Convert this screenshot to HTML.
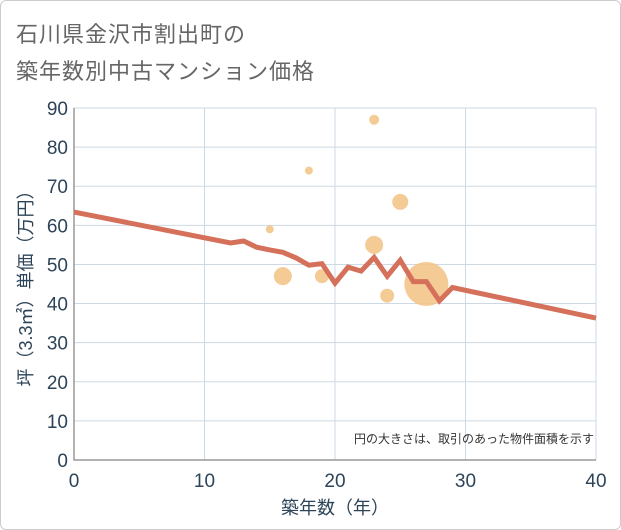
<!DOCTYPE html>
<html><head><meta charset="utf-8"><style>
body{margin:0;background:#fff;}
#wrap{position:relative;width:619px;height:528px;border:1px solid #ccc;border-radius:6px;overflow:hidden;background:#fff;font-family:"Liberation Sans","Noto Sans CJK JP",sans-serif;}
.t{position:absolute;left:15px;font-size:22px;color:#666;letter-spacing:1px;}
</style></head><body>
<div id="wrap">
<div class="t" style="top:16px">石川県金沢市割出町の</div>
<div class="t" style="top:53px">築年数別中古マンション価格</div>
<svg id="svg" width="621" height="530" style="position:absolute;left:-1px;top:-1px"></svg>
</div>
<script>
const xTicks=[0,10,20,30,40];
const yTicks=[0,10,20,30,40,50,60,70,80,90];
const lineX=[0,12,13,14,15,16,17,18,19,20,21,22,23,24,25,26,27,28,29,40];
const lineY=[63.4,55.5,56,54.4,53.7,53.1,51.7,49.8,50.2,45.2,49.3,48.3,51.8,47.0,51.1,45.6,45.6,40.7,44.1,36.3];
const bubX=[15,16,18,19,23,23,24,25,27];
const bubY=[59,47,74,47,87,55,42,66,45];
const bubR=[4,9,4,7,5,9,7,8,22];
const L=74,R=596,T=108,B=460;
const sx=v=>L+(v-0)/(40-0)*(R-L);
const sy=v=>B-(v-0)/(90-0)*(B-T);
const svg=document.getElementById('svg');
const NS='http://www.w3.org/2000/svg';
function mk(tag,attrs,parent){const e=document.createElementNS(NS,tag);for(const k in attrs)e.setAttribute(k,attrs[k]);(parent||svg).appendChild(e);return e;}
yTicks.forEach(v=>{
 const g=mk('line',{x1:L,x2:R,y1:sy(v),y2:sy(v),stroke:'#cdd9e5','stroke-width':1});
 
 
 const t=mk('text',{x:L-6,y:sy(v)+7,'text-anchor':'end','font-size':19,fill:'#2d4458'});
 t.textContent=v;
 
 
});
xTicks.forEach(v=>{
 const g=mk('line',{x1:sx(v),x2:sx(v),y1:T,y2:B,stroke:'#cdd9e5','stroke-width':1});
 
 
 const t=mk('text',{x:sx(v),y:B+27,'text-anchor':'middle','font-size':19,fill:'#2d4458'});
 t.textContent=v;
 
 
});
const ax=mk('path',{d:`M${L} ${T}V${B}H${R}`,fill:'none',stroke:'#999','stroke-width':1.5});


bubX.forEach((x,i)=>{
 const c=mk('circle',{cx:sx(x),cy:sy(bubY[i]),r:bubR[i],fill:'#f3c283','fill-opacity':0.85});
 
 
});
const pl=mk('polyline',{points:lineX.map((x,i)=>sx(x)+','+sy(lineY[i])).join(' '),fill:'none',stroke:'#d5705a','stroke-width':5,'stroke-linejoin':'miter'});


const n=mk('text',{x:594,y:443,'text-anchor':'end','font-size':12,fill:'#333'});
n.textContent='円の大きさは、取引のあった物件面積を示す';


const xt=mk('text',{x:sx(20),y:514,'text-anchor':'middle','font-size':18,fill:'#2d4458'});
xt.textContent='築年数（年）';


const yt=mk('text',{x:0,y:0,'text-anchor':'middle','font-size':18,fill:'#2d4458',transform:`translate(32,${(T+B)/2}) rotate(-90)`});
yt.textContent='坪（3.3㎡）単価（万円）';


</script>
</body></html>
